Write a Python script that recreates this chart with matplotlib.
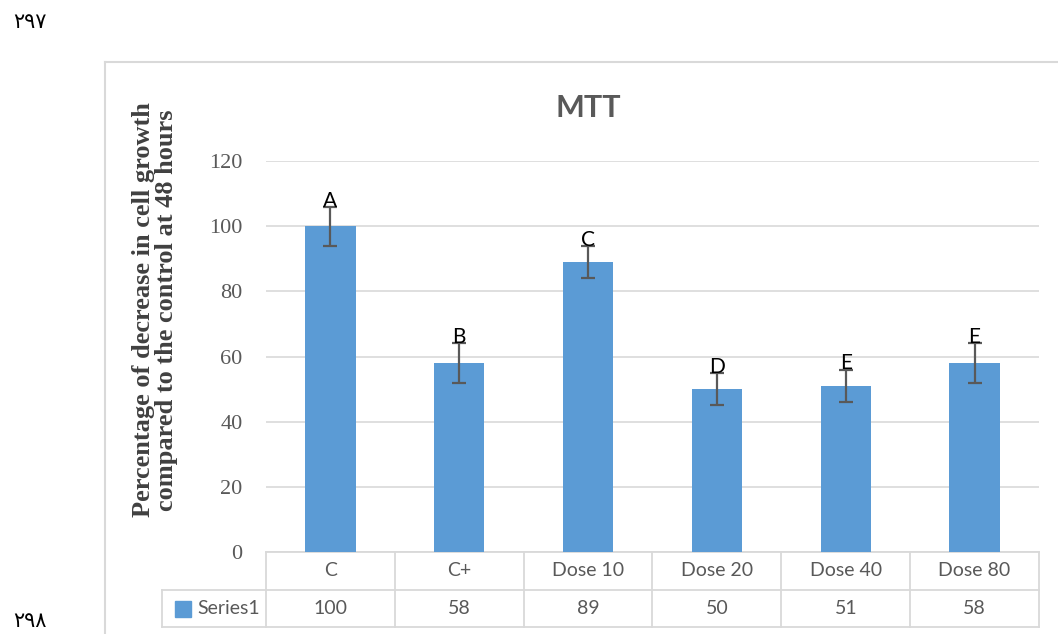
import matplotlib
matplotlib.use("Agg")
import matplotlib.pyplot as plt
from matplotlib.lines import Line2D

categories = ["C", "C+", "Dose 10", "Dose 20", "Dose 40", "Dose 80"]
values = [100, 58, 89, 50, 51, 58]
errors = [6, 6, 5, 5, 5, 6]
letters = ["A", "B", "C", "D", "E", "E"]
series_name = "Series1"
yticks = [0, 20, 40, 60, 80, 100, 120]

W, H = 1058, 634
fig = plt.figure(figsize=(W / 100, H / 100), dpi=100)

def fx(px):
    return px / W

def fy(py):
    return 1 - py / H

# chart-area border
fig.add_artist(Line2D([fx(105), fx(105)], [fy(62), 0], color="#d9d9d9", lw=1.5))
fig.add_artist(Line2D([fx(105), 1], [fy(62), fy(62)], color="#d9d9d9", lw=1.5))

ax = fig.add_axes([fx(266), fy(552), fx(1039) - fx(266), fy(161) - fy(552)])
x = list(range(len(categories)))
bar_color = "#5b9bd5"
ax.bar(x, values, width=0.39, color=bar_color, yerr=errors, zorder=3,
       error_kw=dict(ecolor="#595959", elinewidth=1.6, capsize=5, capthick=1.6, zorder=4))
for i, (v, e, l) in enumerate(zip(values, errors, letters)):
    ax.text(i, v + e - 1.2, l, ha="center", va="bottom", fontsize=15,
            family="Lato", color="black", zorder=5)

ax.set_xlim(-0.5, len(categories) - 0.5)
ax.set_ylim(0, 120)
ax.set_yticks(yticks)
ax.set_yticklabels([str(t) for t in yticks], family="Liberation Serif",
                   fontsize=16, color="#595959")
ax.tick_params(axis="y", length=0, pad=17)
ax.set_xticks([])
for s in ax.spines.values():
    s.set_visible(False)
ax.yaxis.grid(True, color="#d9d9d9", lw=1.2, zorder=0)
ax.set_axisbelow(True)

# data table
trans = ax.get_xaxis_transform()
r1 = -38 / 391
r2 = -75 / 391
left_cell = -0.5 - 104 / 129
n = len(categories)
lc = "#d9d9d9"
def tl(xs, ys):
    ax.plot(xs, ys, transform=trans, clip_on=False, color=lc, lw=1.3)
tl([-0.5, n - 0.5], [0, 0])
tl([left_cell, n - 0.5], [r1, r1])
tl([left_cell, n - 0.5], [r2, r2])
tl([left_cell, left_cell], [r1, r2])
for k in range(n + 1):
    tl([k - 0.5, k - 0.5], [0, r2])
for i, c in enumerate(categories):
    ax.text(i, r1 / 2, c, transform=trans, ha="center", va="center",
            fontsize=14, family="Lato", color="#595959")
    ax.text(i, (r1 + r2) / 2, str(values[i]), transform=trans, ha="center",
            va="center", fontsize=14, family="Lato", color="#595959")
# legend key + series name
ax.plot([left_cell + 0.16], [(r1 + r2) / 2], transform=trans, clip_on=False,
        marker="s", ms=11, color=bar_color, ls="none")
ax.text(left_cell + 0.27, (r1 + r2) / 2, series_name, transform=trans,
        ha="left", va="center", fontsize=14, family="Lato", color="#595959")

# title and y label
fig.text(fx(588), fy(108), "MTT", ha="center", va="center", fontsize=22,
         family="Lato", fontweight="bold", color="#595959")
fig.text(fx(155), fy(310),
         "Percentage of decrease in cell growth\ncompared to the control at 48 hours",
         rotation=90, ha="center", va="center", multialignment="center",
         fontsize=19, family="Liberation Serif", fontweight="bold",
         color="#404040", linespacing=1.0)

# page line numbers
fig.text(fx(30), fy(22), "\u0662\u0669\u0667", ha="center", va="center",
         fontsize=15, family="DejaVu Sans", color="black")
fig.text(fx(30), fy(621), "\u0662\u0669\u0668", ha="center", va="center",
         fontsize=15, family="DejaVu Sans", color="black")

fig.savefig("out.png", dpi=100)
